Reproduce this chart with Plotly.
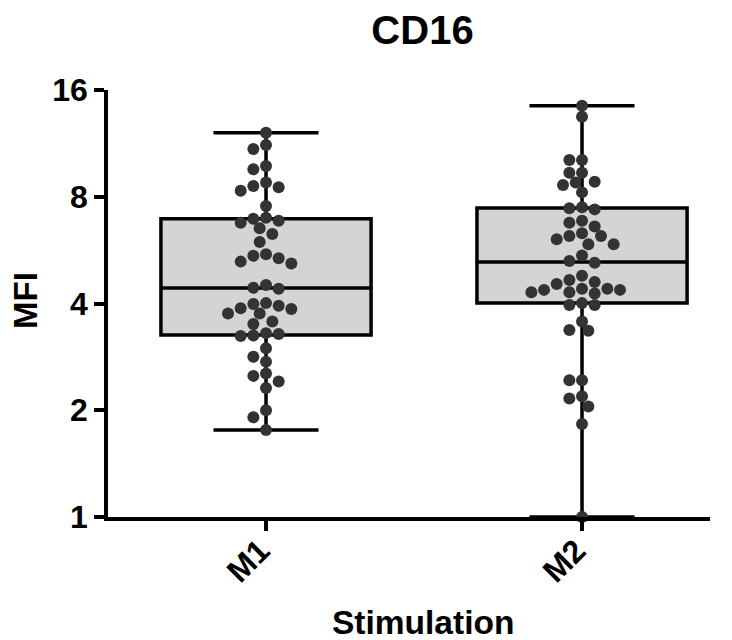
import numpy as np
import plotly.graph_objects as go

# ---------------- data ----------------
categories = ["M1", "M2"]

m1_values = [12.13, 11.2, 10.9, 9.56, 9.77, 8.77, 8.51, 8.32, 8.58, 7.53,
             6.93, 6.76, 6.85, 6.98, 6.52, 6.28, 5.96, 5.45, 5.25, 5.19,
             5.37, 5.51, 4.51, 4.40, 4.43, 4.01, 3.94, 3.75, 3.75, 3.88,
             3.86, 3.99, 3.56, 3.50, 3.28, 3.25, 3.24, 3.30, 2.99, 2.83,
             2.74, 2.50, 2.54, 2.41, 2.31, 2.00, 1.91, 1.76]

m2_values = [14.45, 13.45, 10.16, 10.16, 9.35, 9.35, 8.77, 8.64, 8.82, 8.23,
             7.42, 7.37, 7.47, 6.85, 6.59, 6.76, 6.31, 6.20, 5.88, 5.88,
             6.07, 6.20, 5.46, 5.27, 5.21, 4.79, 4.66, 4.54, 4.40, 4.27,
             4.37, 4.30, 4.30, 4.37, 4.40, 4.60, 3.96, 3.96, 4.01, 3.56,
             3.35, 3.37, 2.43, 2.43, 2.19, 2.16, 2.05, 1.83, 1.00]

box_q1 = [3.26, 4.01]
box_median = [4.42, 5.24]
box_q3 = [6.93, 7.44]
box_min = [1.76, 1.00]
box_max = [12.13, 14.45]

y_tick_vals = [1, 2, 4, 8, 16]

# ---------------- layout constants ----------------
OFF = 8                      # page body margin of the html page
W, H = 732 - OFF, 640 - OFF
ML, MR, MT, MB = 108 - OFF, 22, 90 - OFF, 123
plot_w = W - ML - MR
plot_h = H - MT - MB
PL, PB = ML + OFF, MT + OFF + plot_h   # plot-area left / bottom in page pixels
x_range = [-0.5, 1.405]
px_per_unit = plot_w / (x_range[1] - x_range[0])
px_per_oct = plot_h / 4.0

FONT = "Liberation Sans, Arial, sans-serif"


def swarm_offsets(vals, dot=11.0, step=6.33):
    vals = np.asarray(vals, dtype=float)
    order = np.argsort(-vals, kind="stable")
    placed = []
    offs = np.zeros(len(vals))
    cand = [0]
    for k in range(1, 12):
        cand += [-k, k]
    for i in order:
        y = np.log2(vals[i]) * px_per_oct
        xp = 0.0
        for k in cand:
            x = k * step
            if all((x - px) ** 2 + (y - py) ** 2 >= dot * dot for px, py in placed):
                xp = x
                break
        placed.append((xp, y))
        offs[i] = xp / px_per_unit
    return offs


fig = go.Figure()

series = [m1_values, m2_values]
for i, cat in enumerate(categories):
    fig.add_trace(go.Box(
        x=[i], q1=[box_q1[i]], median=[box_median[i]], q3=[box_q3[i]],
        lowerfence=[box_min[i]], upperfence=[box_max[i]],
        width=0.665, whiskerwidth=0.5,
        fillcolor="#d4d4d4", line=dict(color="black", width=3.5),
        boxpoints=False, showlegend=False, hoverinfo="skip", name=cat,
    ))

for i, vals in enumerate(series):
    offs = swarm_offsets(vals)
    fig.add_trace(go.Scatter(
        x=i + offs, y=vals, mode="markers",
        marker=dict(color="#333333", size=12, line=dict(width=0)),
        showlegend=False, cliponaxis=False, name=categories[i],
    ))

fig.update_layout(
    width=W, height=H,
    margin=dict(l=ML, r=MR, t=MT, b=MB),
    plot_bgcolor="white", paper_bgcolor="white",
    font=dict(family=FONT, color="black"),
    title=dict(text="CD16", x=(422.5 - PL) / plot_w, xref="paper", xanchor="center",
               y=1 - (30 - OFF) / H, yref="container", yanchor="middle",
               font=dict(size=40, weight="bold", family=FONT, color="black")),
    showlegend=False,
)

fig.update_xaxes(
    range=x_range, tickvals=[0, 1], ticktext=categories, showticklabels=False,
    showline=True, linecolor="black", linewidth=3.5,
    ticks="outside", ticklen=10, tickwidth=3.5, tickcolor="black",
    showgrid=False, zeroline=False,
)
fig.update_yaxes(
    type="log", range=[0, np.log10(16)], tickvals=y_tick_vals,
    ticktext=[str(v) for v in y_tick_vals],
    showline=True, linecolor="black", linewidth=3.5,
    ticks="outside", ticklen=10, tickwidth=3.5, tickcolor="black",
    showgrid=False, zeroline=False,
    tickfont=dict(size=32, weight="bold", family=FONT, color="black"),
)

# rotated category labels (x tick labels)
for i, cat in enumerate(categories):
    fig.add_annotation(text=cat, xref="x", yref="paper",
                       x=i - 18 / px_per_unit, y=(PB - 561) / plot_h,
                       xanchor="center", yanchor="middle", textangle=-45, showarrow=False,
                       font=dict(size=32, weight="bold", family=FONT, color="black"))

fig.add_annotation(text="MFI", xref="paper", yref="paper",
                   x=(25 - PL) / plot_w, y=(PB - 301) / plot_h,
                   xanchor="center", yanchor="middle", textangle=-90, showarrow=False,
                   font=dict(size=33, weight="bold", family=FONT, color="black"))
fig.add_annotation(text="Stimulation", xref="paper", yref="paper",
                   x=(423 - PL) / plot_w, y=(PB - 622) / plot_h,
                   xanchor="center", yanchor="middle", showarrow=False,
                   font=dict(size=33.5, weight="bold", family=FONT, color="black"))

fig.write_html("out.html")
